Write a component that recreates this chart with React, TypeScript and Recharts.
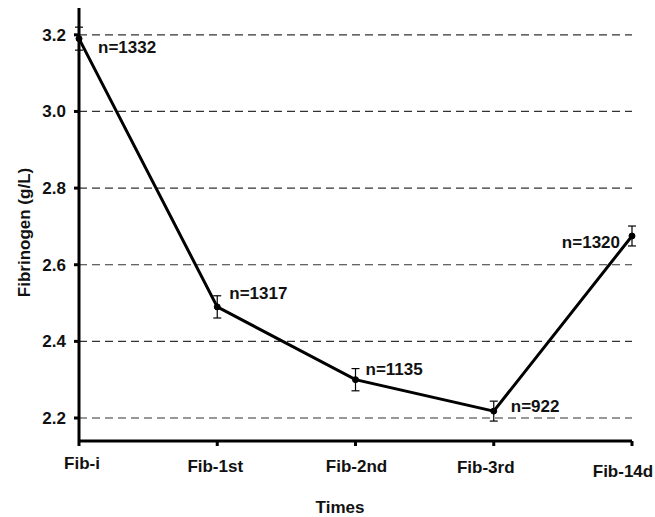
import React from "react";
import { LineChart, Line, XAxis, YAxis, CartesianGrid, ErrorBar, LabelList } from "recharts";

const categories = ["Fib-i", "Fib-1st", "Fib-2nd", "Fib-3rd", "Fib-14d"];
const means = [3.19, 2.49, 2.3, 2.218, 2.675];
const errors = [0.03, 0.029, 0.029, 0.026, 0.026];
const nLabels = ["n=1332", "n=1317", "n=1135", "n=922", "n=1320"];
const yTicks = [2.2, 2.4, 2.6, 2.8, 3.0, 3.2];

const data = categories.map((c, i) => ({ x: i, name: c, mean: means[i], err: errors[i], n: nLabels[i] }));

const labelOffsets = [
  { dx: 19, dy: 14, anchor: "start" },
  { dx: 12, dy: -8, anchor: "start" },
  { dx: 10, dy: -5, anchor: "start" },
  { dx: 17, dy: 1, anchor: "start" },
  { dx: -12, dy: 12, anchor: "end" },
];

const tickOffsets = [
  { dx: 3, dy: 21 },
  { dx: -2, dy: 24 },
  { dx: 1, dy: 24 },
  { dx: -8, dy: 25 },
  { dx: -9, dy: 29 },
];

const font = "'Liberation Sans', Arial, sans-serif";
const FS = 17;

const NLabel = (props: any) => {
  const { x, y, index, value } = props;
  const o = labelOffsets[index];
  return (
    <text x={x + o.dx} y={y + o.dy} textAnchor={o.anchor} fontFamily={font} fontWeight="bold" fontSize={FS} fill="#111">
      {value}
    </text>
  );
};

const XTick = (props: any) => {
  const { x, y, payload } = props;
  const o = tickOffsets[payload.value];
  return (
    <text x={x + o.dx} y={y + o.dy} textAnchor="middle" fontFamily={font} fontWeight="bold" fontSize={FS} fill="#111">
      {categories[payload.value]}
    </text>
  );
};

const TimesLabel = (props: any) => {
  const { viewBox } = props;
  return (
    <text x={340} y={viewBox.y + 72} textAnchor="middle" fontFamily={font} fontWeight="bold" fontSize={FS} fill="#111">
      Times
    </text>
  );
};

const YLabel = (props: any) => {
  const { viewBox } = props;
  const cx = 30;
  const cy = viewBox.y + viewBox.height / 2 + 8;
  return (
    <text x={cx} y={cy} transform={`rotate(-90 ${cx} ${cy})`} textAnchor="middle" fontFamily={font} fontWeight="bold" fontSize={FS} fill="#111">
      Fibrinogen (g/L)
    </text>
  );
};

export default function App() {
  return (
    <div style={{ position: "absolute", left: 0, top: 0, background: "#fff" }}>
      <LineChart width={655} height={517} data={data} margin={{ top: 8, right: 23, left: 0, bottom: 0 }}>
        <CartesianGrid vertical={false} stroke="#333" strokeDasharray="8 5" strokeWidth={1.2} horizontalValues={yTicks} />
        <XAxis
          dataKey="x"
          type="number"
          domain={[0, 4]}
          ticks={[0, 1, 2, 3, 4]}
          height={76}
          stroke="#000"
          strokeWidth={3}
          tickSize={5}
          tick={<XTick />}
          label={<TimesLabel />}
        />
        <YAxis
          type="number"
          domain={[2.14, 3.27]}
          ticks={yTicks}
          width={79}
          stroke="#000"
          strokeWidth={3}
          tickSize={5}
          tickMargin={8}
          allowDataOverflow
          tickFormatter={(v: number) => v.toFixed(1)}
          tick={{ fontFamily: font, fontWeight: "bold", fontSize: FS, fill: "#111" }}
          label={<YLabel />}
        />
        <Line
          dataKey="mean"
          stroke="#000"
          strokeWidth={3}
          dot={{ r: 3, fill: "#000", stroke: "#000", strokeWidth: 1 }}
          isAnimationActive={false}
        >
          <ErrorBar dataKey="err" width={4} stroke="#000" strokeWidth={1.2} direction="y" />
          <LabelList dataKey="n" content={<NLabel />} />
        </Line>
      </LineChart>
    </div>
  );
}
